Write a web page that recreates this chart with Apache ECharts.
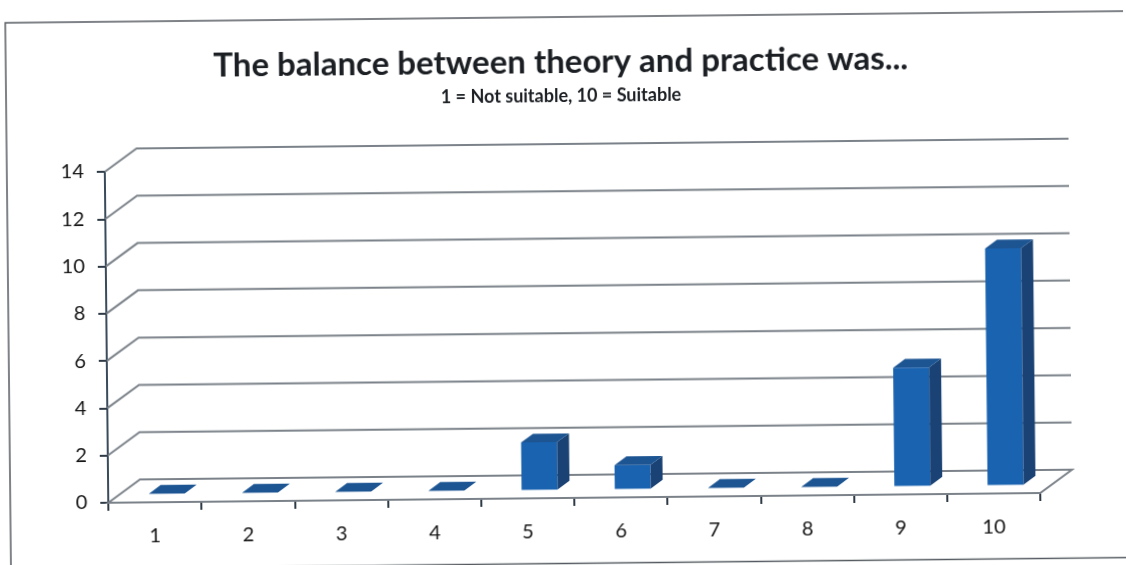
<!DOCTYPE html>
<html>
<head>
<meta charset="utf-8">
<script src="https://cdn.jsdelivr.net/npm/echarts@6/dist/echarts.min.js"></script>
<style>
  html, body { margin: 0; padding: 0; background: #ffffff; overflow: hidden; }
  #chart { width: 1126px; height: 565px; transform: rotate(-0.6deg); transform-origin: 563px 282px; }
</style>
</head>
<body>
<div id="chart"></div>
<script>
// ---- data ----
const categories = ['1', '2', '3', '4', '5', '6', '7', '8', '9', '10'];
const values = [0, 0, 0, 0, 2, 1, 0, 0, 5, 10];
const yTickValues = [0, 2, 4, 6, 8, 10, 12, 14];
const titleText = 'The balance between theory and practice was...';
const subtitleText = '1 = Not suitable, 10 = Suitable';

// ---- 3D look ----
const DX = 32, DY = -23;          // depth of the back wall
const BAR_FRONT = 0.375;          // bar front position as fraction of depth
const BAR_DEPTH = 0.375;          // bar depth as fraction of depth
const BAR_W = 0.386;              // bar width as fraction of category width
const FRONT = '#1a63b0', TOP = '#1d5593', SIDE = '#1a4274';
const GRID_COLOR = '#7b8289';

const chart = echarts.init(document.getElementById('chart'), null, { renderer: 'canvas' });

function renderGrid(params, api) {
  const cs = params.coordSys;
  const v = api.value(1);
  const y = api.coord([0, v])[1];
  const x0 = cs.x, x1 = cs.x + cs.width;
  if (v === 0) {
    return {
      type: 'polygon',
      shape: { points: [[x0, y], [x0 + DX, y + DY], [x1 + DX, y + DY], [x1, y]] },
      style: { fill: 'rgba(255,255,255,0)', stroke: GRID_COLOR, lineWidth: 2 },
      z2: 1
    };
  }
  return {
    type: 'polyline',
    shape: { points: [[x0, y], [x0 + DX, y + DY], [x1 + DX, y + DY]] },
    style: { fill: null, stroke: GRID_COLOR, lineWidth: 2 },
    z2: 1
  };
}

function renderBar(params, api) {
  const i = api.value(0), v = api.value(1);
  const top = api.coord([i, v]);
  const base = api.coord([i, 0]);
  const bw = api.size([1, 0])[0] * BAR_W;
  const ox = DX * BAR_FRONT, oy = DY * BAR_FRONT;
  const ddx = DX * BAR_DEPTH, ddy = DY * BAR_DEPTH;
  const xl = top[0] + ox - bw / 2, xr = top[0] + ox + bw / 2;
  const yt = top[1] + oy, yb = base[1] + oy;
  const children = [];
  if (yb - yt > 0.5) {
    children.push({ type: 'polygon', shape: { points: [[xl, yt], [xr, yt], [xr, yb], [xl, yb]] }, style: { fill: FRONT } });
    children.push({ type: 'polygon', shape: { points: [[xr, yt], [xr + ddx, yt + ddy], [xr + ddx, yb + ddy], [xr, yb]] }, style: { fill: SIDE } });
  }
  children.push({ type: 'polygon', shape: { points: [[xl, yt], [xl + ddx, yt + ddy], [xr + ddx, yt + ddy], [xr, yt]] }, style: { fill: TOP } });
  return { type: 'group', children: children };
}

chart.setOption({
  backgroundColor: '#ffffff',
  animation: false,
  title: {
    text: titleText,
    subtext: subtitleText,
    left: 'center',
    top: 38,
    itemGap: 5,
    textStyle: { fontFamily: 'Lato', fontWeight: 'bold', fontSize: 33, color: '#1b1f23', lineHeight: 38 },
    subtextStyle: { fontFamily: 'Lato', fontWeight: 'bold', fontSize: 18, color: '#1b1f23', lineHeight: 20 }
  },
  graphic: [
    {
      type: 'polyline',
      shape: { points: [[1150, 17], [8, 17], [8, 563.5], [1150, 563.5]] },
      style: { fill: null, stroke: '#555b61', lineWidth: 1.5 },
      silent: true
    }
  ],
  grid: { left: 106, right: 88, top: 167, bottom: 67, containLabel: false },
  xAxis: {
    type: 'category',
    data: categories,
    boundaryGap: true,
    axisLine: { show: true, lineStyle: { color: '#3a4b5c', width: 2 } },
    axisTick: { show: true, length: 8, lineStyle: { color: '#2e3a46', width: 2 } },
    axisLabel: { margin: 24, fontFamily: 'Lato', fontSize: 20, color: '#151515' },
    splitLine: { show: false }
  },
  yAxis: {
    type: 'value',
    min: 0, max: 14, interval: 2,
    axisLine: { show: true, lineStyle: { color: '#3a4b5c', width: 2 } },
    axisTick: { show: true, length: 8, lineStyle: { color: '#2e3a46', width: 2 } },
    axisLabel: { margin: 21, fontFamily: 'Lato', fontSize: 20, color: '#151515' },
    splitLine: { show: false }
  },
  series: [
    {
      type: 'custom',
      name: 'walls',
      renderItem: renderGrid,
      data: yTickValues.map(v => [0, v]),
      encode: { x: 0, y: 1 },
      clip: false,
      silent: true,
      z: 1
    },
    {
      type: 'custom',
      name: 'bars',
      renderItem: renderBar,
      data: values.map((v, i) => [i, v]),
      encode: { x: 0, y: 1 },
      clip: false,
      z: 3
    }
  ]
});
</script>
</body>
</html>
